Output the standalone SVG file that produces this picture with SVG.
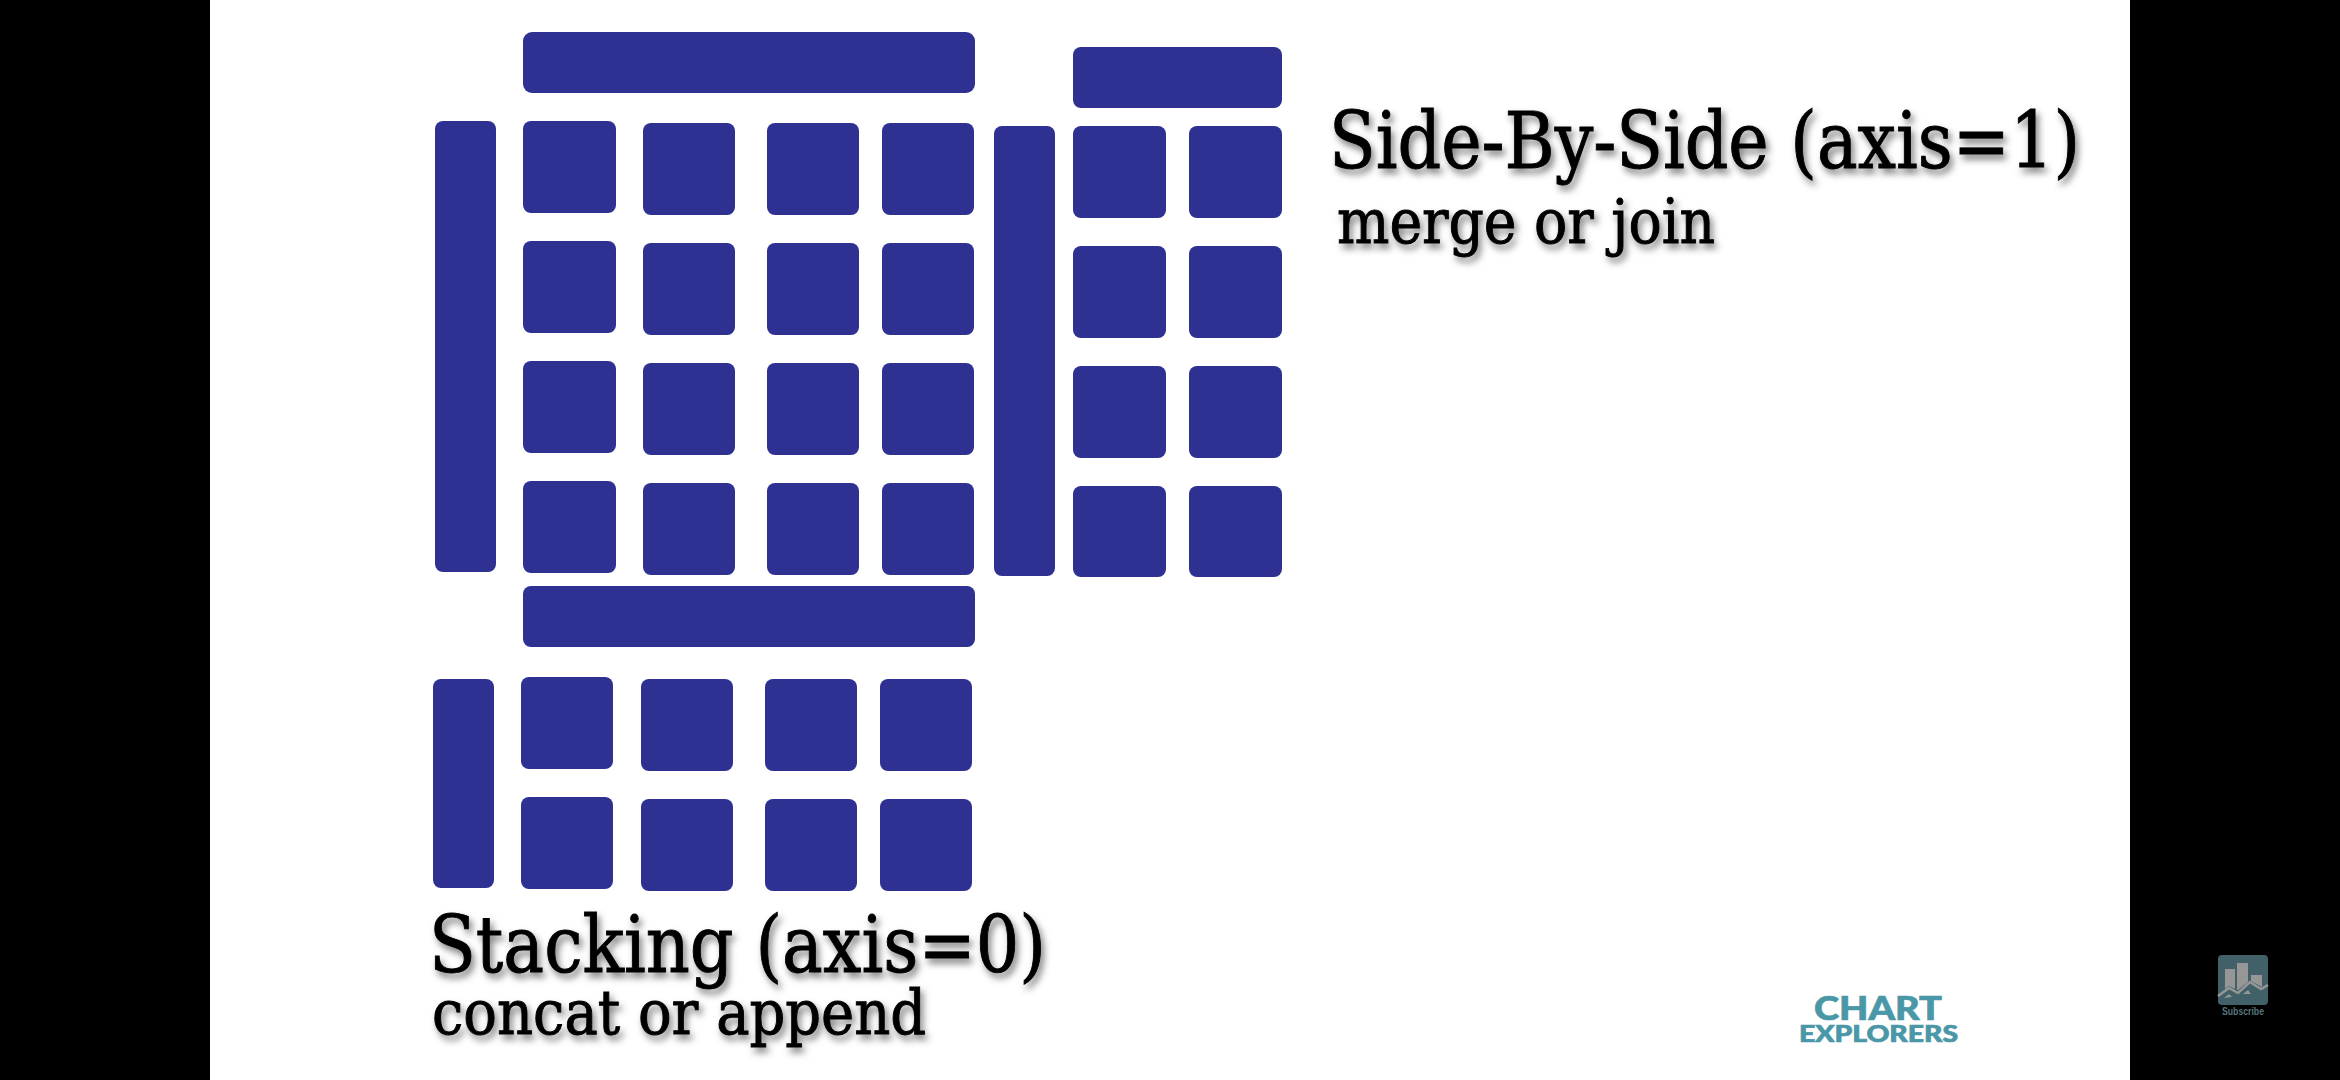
<svg xmlns="http://www.w3.org/2000/svg" width="2340" height="1080" viewBox="0 0 2340 1080">
<defs>
<filter id="sh" x="-5%" y="-20%" width="110%" height="150%"><feDropShadow dx="3" dy="5" stdDeviation="3.5" flood-color="#000" flood-opacity="0.5"/></filter>
</defs>
<style>
.b{fill:#2e3192}
.t{font-family:"DejaVu Serif Condensed","DejaVu Serif",serif;fill:#000;stroke:#000;stroke-width:.9;filter:url(#sh)}
.l{font-family:"Lato","Liberation Sans",sans-serif;font-weight:900;fill:#4a97a8;stroke:#4a97a8;stroke-width:.7}
.g{fill:#969696}
</style>
<rect width="2340" height="1080" fill="#000"/>
<rect x="210" y="0" width="1920" height="1080" fill="#fff"/>
<g id="stack-top">
<rect class="b" x="523" y="32" width="452" height="61" rx="9"/>
<rect class="b" x="435" y="121" width="61" height="451" rx="8"/>
<rect class="b" x="523" y="121" width="93" height="92" rx="8"/><rect class="b" x="643" y="123" width="92" height="92" rx="8"/><rect class="b" x="767" y="123" width="92" height="92" rx="8"/><rect class="b" x="882" y="123" width="92" height="92" rx="8"/>
<rect class="b" x="523" y="241" width="93" height="92" rx="8"/><rect class="b" x="643" y="243" width="92" height="92" rx="8"/><rect class="b" x="767" y="243" width="92" height="92" rx="8"/><rect class="b" x="882" y="243" width="92" height="92" rx="8"/>
<rect class="b" x="523" y="361" width="93" height="92" rx="8"/><rect class="b" x="643" y="363" width="92" height="92" rx="8"/><rect class="b" x="767" y="363" width="92" height="92" rx="8"/><rect class="b" x="882" y="363" width="92" height="92" rx="8"/>
<rect class="b" x="523" y="481" width="93" height="92" rx="8"/><rect class="b" x="643" y="483" width="92" height="92" rx="8"/><rect class="b" x="767" y="483" width="92" height="92" rx="8"/><rect class="b" x="882" y="483" width="92" height="92" rx="8"/>
</g>
<g id="side-right">
<rect class="b" x="994" y="126" width="61" height="450" rx="8"/>
<rect class="b" x="1073" y="47" width="209" height="61" rx="8"/>
<rect class="b" x="1073" y="126" width="93" height="92" rx="8"/><rect class="b" x="1189" y="126" width="93" height="92" rx="8"/>
<rect class="b" x="1073" y="246" width="93" height="92" rx="8"/><rect class="b" x="1189" y="246" width="93" height="92" rx="8"/>
<rect class="b" x="1073" y="366" width="93" height="92" rx="8"/><rect class="b" x="1189" y="366" width="93" height="92" rx="8"/>
<rect class="b" x="1073" y="486" width="93" height="91" rx="8"/><rect class="b" x="1189" y="486" width="93" height="91" rx="8"/>
</g>
<g id="stack-bottom">
<rect class="b" x="523" y="586" width="452" height="61" rx="8"/>
<rect class="b" x="433" y="679" width="61" height="209" rx="8"/>
<rect class="b" x="521" y="677" width="92" height="92" rx="8"/><rect class="b" x="641" y="679" width="92" height="92" rx="8"/><rect class="b" x="765" y="679" width="92" height="92" rx="8"/><rect class="b" x="880" y="679" width="92" height="92" rx="8"/>
<rect class="b" x="521" y="797" width="92" height="92" rx="8"/><rect class="b" x="641" y="799" width="92" height="92" rx="8"/><rect class="b" x="765" y="799" width="92" height="92" rx="8"/><rect class="b" x="880" y="799" width="92" height="92" rx="8"/>
</g>
<g id="label-side">
<text class="t" x="1329" y="168" font-size="79" textLength="751" lengthAdjust="spacingAndGlyphs">Side-By-Side (axis=1)</text>
<text class="t" x="1337" y="243" font-size="62" textLength="378" lengthAdjust="spacingAndGlyphs">merge or join</text>
</g>
<g id="label-stack">
<text class="t" x="429" y="972" font-size="79" textLength="617" lengthAdjust="spacingAndGlyphs">Stacking (axis=0)</text>
<text class="t" x="432" y="1034" font-size="62" textLength="494" lengthAdjust="spacingAndGlyphs">concat or append</text>
</g>
<g id="logo">
<text class="l" x="1814" y="1020" font-size="32" textLength="128" lengthAdjust="spacingAndGlyphs">CHART</text>
<text class="l" x="1799" y="1042" font-size="23" textLength="159" lengthAdjust="spacingAndGlyphs">EXPLORERS</text>
</g>
<g id="subscribe">
<rect x="2218" y="955" width="50" height="50" rx="4" fill="#426067"/>
<polygon class="g" points="2225,969 2235,969 2235,989 2229,986 2225,989"/>
<polygon class="g" points="2237,963 2248,963 2248,982 2238,990 2237,990"/>
<polygon class="g" points="2251,975 2262,975 2262,987 2251,981"/>
<polyline points="2218,996 2229,988 2238,993 2250,982 2261,989 2268,985" fill="none" stroke="#969696" stroke-width="2.5"/>
<polygon class="g" points="2224,998 2229,994 2232,997"/>
<polygon class="g" points="2243,994 2248,990 2251,994"/>
<text x="2222" y="1015" font-size="10" font-weight="700" font-family="'Liberation Sans',sans-serif" fill="#55757d" textLength="42" lengthAdjust="spacingAndGlyphs">Subscribe</text>
</g>
</svg>
